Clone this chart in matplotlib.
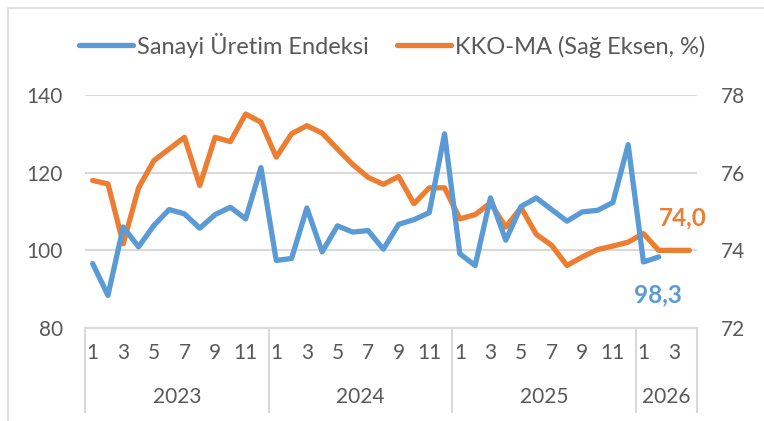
import matplotlib
matplotlib.use("Agg")
import matplotlib.pyplot as plt
from matplotlib.transforms import blended_transform_factory
from matplotlib.patches import Rectangle
from matplotlib.lines import Line2D

plt.rcParams['font.family'] = ['Lato', 'DejaVu Sans']

years = ["2023", "2024", "2025", "2026"]
months_per_year = [12, 12, 12, 4]

sanayi = [96.6, 88.4, 106.0, 100.9, 106.4, 110.5, 109.4, 105.7, 109.2, 111.1, 108.1, 121.3,
          97.4, 97.9, 110.9, 99.6, 106.3, 104.7, 105.1, 100.3, 106.7, 107.9, 109.7, 130.0,
          99.1, 96.1, 113.5, 102.6, 111.3, 113.5, 110.5, 107.5, 109.9, 110.3, 112.3, 127.2,
          97.0, 98.3]
kko = [75.80, 75.71, 74.17, 75.61, 76.31, 76.61, 76.91, 75.67, 76.91, 76.80, 77.51, 77.30,
       76.40, 77.00, 77.21, 77.02, 76.61, 76.21, 75.88, 75.70, 75.90, 75.20, 75.61, 75.61,
       74.81, 74.92, 75.22, 74.60, 75.10, 74.41, 74.13, 73.61, 73.83, 74.02, 74.11, 74.21,
       74.43, 74.00, 74.00, 74.00]
left_ticks = [80, 100, 120, 140]
right_ticks = [72, 74, 76, 78]
label_sanayi = "98,3"
label_kko = "74,0"

blue = "#5B9BD5"
orange = "#ED7D31"
gray_txt = "#595959"
grid_c = "#D9D9D9"

months = []
for n in months_per_year:
    months += list(range(1, n + 1))
N = len(months)

fig = plt.figure(figsize=(7.64, 4.21), dpi=100)
ax = fig.add_axes([85/764, 1-328/421, (697-85)/764, (328-95)/421])
ax2 = ax.twinx()
ax.set_zorder(ax2.get_zorder() + 1)
ax.patch.set_visible(False)

ax.set_xlim(-0.5, N - 0.5)
ax.set_ylim(80, 140)
ax2.set_ylim(72, 78)

ax.set_yticks(left_ticks)
ax2.set_yticks(right_ticks)
for a in (ax, ax2):
    for s in a.spines.values():
        s.set_visible(False)
    a.tick_params(axis='y', length=0, labelsize=15, labelcolor=gray_txt)
ax.tick_params(axis='y', pad=16)
ax2.tick_params(axis='y', pad=17)
ax2.yaxis.grid(True, color=grid_c, linewidth=1.5)
ax2.set_axisbelow(True)
ax.spines['bottom'].set_visible(True)
ax.spines['bottom'].set_color(grid_c)
ax.spines['bottom'].set_linewidth(1.5)

ax.set_xticks([])
ax2.set_xticks([])

xs_b = list(range(len(sanayi)))
xs_o = list(range(len(kko)))
ax2.plot(xs_o, kko, color=orange, linewidth=3.8, solid_capstyle='round', solid_joinstyle='round', zorder=2)
ax.plot(xs_b, sanayi, color=blue, linewidth=3.8, solid_capstyle='round', solid_joinstyle='round', zorder=3)

# category labels
trans = blended_transform_factory(ax.transData, ax.transAxes)
h = 328 - 95
for i, m in enumerate(months):
    if m % 2 == 1:
        ax.text(i, -(353 - 328) / h, str(m), transform=trans, ha='center', va='center',
                fontsize=15, color=gray_txt, clip_on=False)
start = 0
bounds = [-0.5]
for y, n in zip(years, months_per_year):
    ax.text(start + (n - 1) / 2, -(397 - 328) / h, y, transform=trans, ha='center', va='center',
            fontsize=15, color=gray_txt, clip_on=False)
    start += n
    bounds.append(start - 0.5)
for b in bounds:
    ax.add_line(Line2D([b, b], [0, -(412 - 328) / h], transform=trans, color=grid_c,
                       linewidth=1.5, clip_on=False))

# data labels
ax.annotate(label_sanayi, (len(sanayi) - 1, sanayi[-1]), xytext=(-18, -27),
            textcoords='offset points', ha='left', va='center', fontsize=17.5, fontweight='bold', color=blue)
ax2.annotate(label_kko, (len(kko) - 1, kko[-1]), xytext=(-22, 23), textcoords='offset points',
             ha='left', va='center', fontsize=17.5, fontweight='bold', color=orange)

# legend
handles = [Line2D([], [], color=blue, linewidth=3.8, solid_capstyle='round'),
           Line2D([], [], color=orange, linewidth=3.8, solid_capstyle='round')]
fig.legend(handles, ["Sanayi Üretim Endeksi", "KKO-MA (Sağ Eksen, %)"], loc='center',
           bbox_to_anchor=(392/764, 1-45/421), ncol=2, frameon=False, fontsize=17,
           labelcolor=gray_txt, handlelength=2.3, handletextpad=0.15, columnspacing=1.2)

# chart border
fig.add_artist(Rectangle((8/764, -0.1), 1.2, 1 - 8/421 + 0.1, transform=fig.transFigure,
                         fill=False, edgecolor="#D9D9D9", linewidth=1.2))

fig.savefig("out.png", dpi=100)
